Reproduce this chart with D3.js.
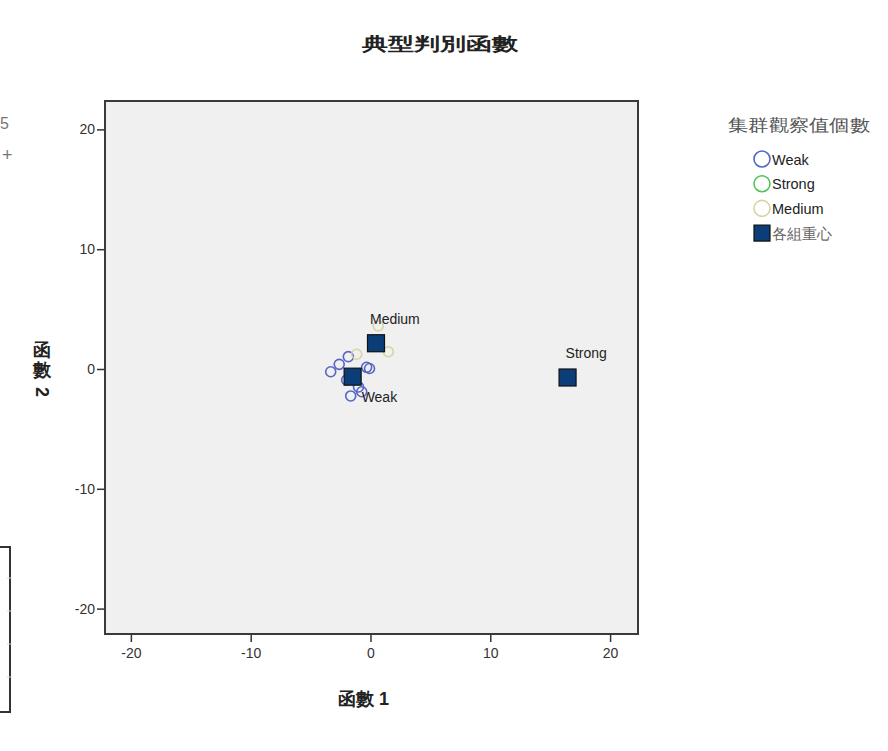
<!DOCTYPE html>
<html>
<head>
<meta charset="utf-8">
<script src="https://cdn.jsdelivr.net/npm/d3@7"></script>
<style>
  body { margin: 0; background: #fff; }
  text { font-family: "Liberation Sans", Arial, sans-serif; }
</style>
</head>
<body>
<svg id="chart" width="888" height="751"></svg>
<script>
// Canonical discriminant scores (function 1, function 2) per case
const groups = ["Weak", "Strong", "Medium"];
const groupColors = ["#5366c6", "#4fc35a", "#d9d3a2"];

const weakF1 = [-3.32, -2.61, -1.85, -0.32, -0.08, -1.99, -1.65, -0.73, -1.00];
const weakF2 = [-0.23, 0.39, 1.03, 0.14, 0.04, -0.92, -2.25, -1.90, -1.50];
const strongF1 = [16.45];
const strongF2 = [-0.71];
const mediumF1 = [0.65, 1.49, -1.15];
const mediumF2 = [3.59, 1.44, 1.23];

// Group centroids
const centroidF1 = [-1.49, 16.45, 0.46];
const centroidF2 = [-0.64, -0.71, 2.15];

const tickValues = [-20, -10, 0, 10, 20];
const legendLabels = ["Weak", "Strong", "Medium", "各組重心"];

const titleText = "典型判別函數";
const xTitle = "函數 1";
const yTitleChars = ["函", "數"];
const yTitleNum = "2";
const legendTitle = "集群觀察值個數";

const svg = d3.select("#chart");

const plot = { left: 105, top: 101, right: 638, bottom: 634 };
const x = d3.scaleLinear().domain([-22.16, 22.33]).range([plot.left, plot.right]);
const y = d3.scaleLinear().domain([-22.12, 22.37]).range([plot.bottom, plot.top]);

// Fragments of neighbouring output at the left edge
const edge = svg.append("g").attr("fill", "none");
edge.append("text").attr("x", 0).attr("y", 129).attr("fill", "#777")
  .attr("font-size", 16).text("5");
edge.append("text").attr("x", 2).attr("y", 161).attr("fill", "#777")
  .attr("font-size", 18).text("+");
edge.append("rect").attr("x", -10).attr("y", 547).attr("width", 20).attr("height", 165)
  .attr("stroke", "#333").attr("stroke-width", 2);
[578, 611, 644, 677].forEach(v => {
  edge.append("line").attr("x1", 7).attr("x2", 12).attr("y1", v).attr("y2", v)
    .attr("stroke", "#ddd").attr("stroke-width", 1);
});

// Title
svg.append("text")
  .attr("x", 362).attr("y", 50)
  .attr("textLength", 156).attr("lengthAdjust", "spacingAndGlyphs")
  .attr("font-family", "'Noto Sans CJK TC', sans-serif")
  .attr("font-size", 18).attr("font-weight", "bold").attr("fill", "#222")
  .text(titleText);

// Plot area
svg.append("rect")
  .attr("x", plot.left).attr("y", plot.top)
  .attr("width", plot.right - plot.left).attr("height", plot.bottom - plot.top)
  .attr("fill", "#f0f0f0").attr("stroke", "#3a3a3a").attr("stroke-width", 2);

// Axes (plain hyphen-minus in tick labels)
const fmt = d => String(d);
const xAxis = svg.append("g")
  .attr("transform", `translate(0,${plot.bottom + 1})`)
  .call(d3.axisBottom(x).tickValues(tickValues).tickFormat(fmt)
    .tickSize(7).tickSizeOuter(0).tickPadding(6));
const yAxis = svg.append("g")
  .attr("transform", `translate(${plot.left - 1},0)`)
  .call(d3.axisLeft(y).tickValues(tickValues).tickFormat(fmt)
    .tickSize(7).tickSizeOuter(0).tickPadding(2));
[xAxis, yAxis].forEach(a => {
  a.select(".domain").remove();
  a.selectAll(".tick line").attr("stroke", "#333").attr("stroke-width", 1.5);
  a.selectAll(".tick text").attr("font-size", 14).attr("fill", "#333")
    .attr("font-family", "'Liberation Sans', Arial, sans-serif");
});

// Axis titles
svg.append("text")
  .attr("x", 338).attr("y", 705)
  .attr("font-family", "'Noto Sans CJK TC', sans-serif")
  .attr("font-size", 18).attr("font-weight", "bold").attr("fill", "#222")
  .text(xTitle);

// Vertical axis title: upright CJK characters stacked, numeral turned sideways
const yt = svg.append("g").attr("font-family", "'Noto Sans CJK TC', sans-serif")
  .attr("font-size", 18).attr("font-weight", "bold").attr("fill", "#222");
yTitleChars.forEach((c, i) => {
  yt.append("text").attr("x", 42).attr("y", 356 + i * 20)
    .attr("text-anchor", "middle").text(c);
});
yt.append("text")
  .attr("transform", "translate(36,392) rotate(90)")
  .attr("text-anchor", "middle")
  .attr("font-family", "'Liberation Sans', Arial, sans-serif")
  .text(yTitleNum);

// Case points
const caseSets = [
  { f1: weakF1, f2: weakF2 },
  { f1: strongF1, f2: strongF2 },
  { f1: mediumF1, f2: mediumF2 }
];
const pts = svg.append("g").attr("fill", "none").attr("stroke-width", 1.6);
caseSets.forEach((s, gi) => {
  pts.selectAll(null)
    .data(s.f1.map((v, i) => [v, s.f2[i]]))
    .join("circle")
    .attr("cx", d => x(d[0])).attr("cy", d => y(d[1])).attr("r", 5)
    .attr("stroke", groupColors[gi]);
});

// Centroids
const sq = 17;
svg.append("g").selectAll("rect")
  .data(groups.map((g, i) => [centroidF1[i], centroidF2[i]]))
  .join("rect")
  .attr("x", d => x(d[0]) - sq / 2).attr("y", d => y(d[1]) - sq / 2)
  .attr("width", sq).attr("height", sq)
  .attr("fill", "#0b3d78").attr("stroke", "#111").attr("stroke-width", 1.2);

// Centroid labels
const labelOffset = { Weak: [9, 25], Strong: [-2, -20], Medium: [-6, -19] };
svg.append("g").selectAll("text")
  .data(groups.map((g, i) => ({ g, f1: centroidF1[i], f2: centroidF2[i] })))
  .join("text")
  .attr("x", d => x(d.f1) + labelOffset[d.g][0])
  .attr("y", d => y(d.f2) + labelOffset[d.g][1])
  .attr("font-size", 14).attr("fill", "#222")
  .text(d => d.g);

// Legend
const lg = svg.append("g");
lg.append("text")
  .attr("x", 728).attr("y", 131)
  .attr("textLength", 142).attr("lengthAdjust", "spacingAndGlyphs")
  .attr("font-family", "'Noto Sans CJK TC', sans-serif")
  .attr("font-size", 17).attr("fill", "#555")
  .text(legendTitle);
legendLabels.forEach((lab, i) => {
  const cy = 159 + i * 24.7;
  if (i < 3) {
    lg.append("circle").attr("cx", 762).attr("cy", cy).attr("r", 8)
      .attr("fill", "none").attr("stroke", groupColors[i]).attr("stroke-width", 1.6);
  } else {
    lg.append("rect").attr("x", 754).attr("y", cy - 8).attr("width", 16).attr("height", 16)
      .attr("fill", "#0b3d78").attr("stroke", "#111").attr("stroke-width", 1.2);
  }
  lg.append("text").attr("x", 772).attr("y", cy + 5.5)
    .attr("font-size", 14.5)
    .attr("font-family", i < 3 ? "'Liberation Sans', Arial, sans-serif" : "'Noto Sans CJK TC', sans-serif")
    .attr("fill", i < 3 ? "#222" : "#666")
    .text(lab);
});
</script>
</body>
</html>
